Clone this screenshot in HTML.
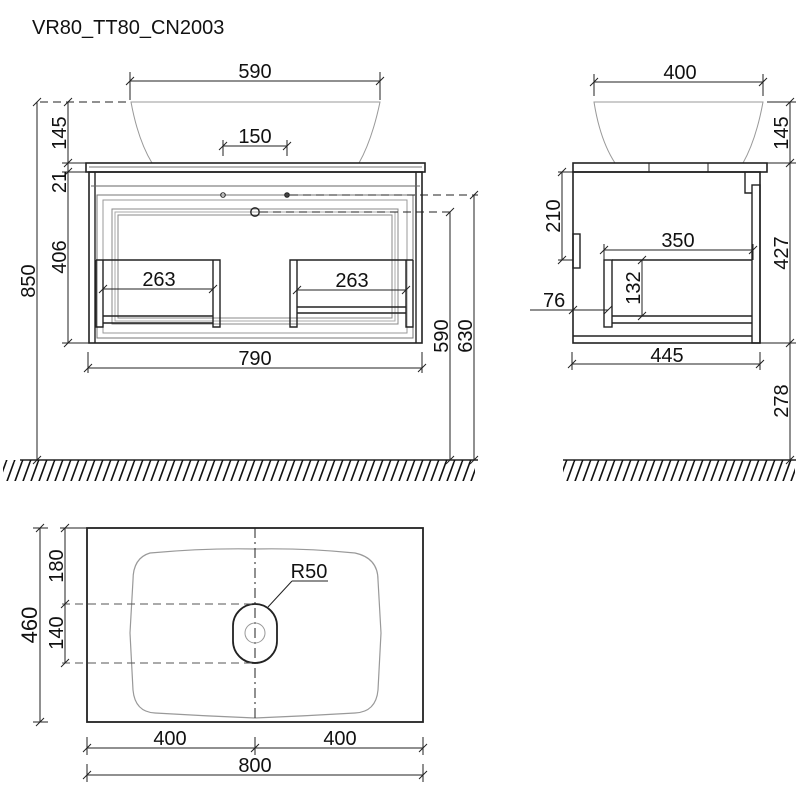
<!DOCTYPE html>
<html><head><meta charset="utf-8"><style>
html,body{margin:0;padding:0;background:#fff}
svg{display:block}
text{font-family:"Liberation Sans",sans-serif;font-size:20px;fill:#111}
</style></head><body>
<svg width="800" height="800" viewBox="0 0 800 800" xmlns="http://www.w3.org/2000/svg">
<defs>
<pattern id="h" width="8" height="22" patternUnits="userSpaceOnUse">
<line x1="-2" y1="22" x2="6" y2="0" stroke="#111" stroke-width="1.6"/>
<line x1="6" y1="22" x2="14" y2="0" stroke="#111" stroke-width="1.6"/>
</pattern>
</defs>
<text x="32" y="34" style="font-size:20px">VR80_TT80_CN2003</text>

<g stroke="#222" stroke-width="1" fill="none">
<line x1="130" y1="81" x2="380" y2="81"/>
<line x1="130" y1="72" x2="130" y2="100"/><line x1="380" y1="72" x2="380" y2="100"/>
<line x1="126" y1="85" x2="134" y2="77"/><line x1="376" y1="85" x2="384" y2="77"/>
<path d="M131 102 L380 102 Q372 140 359 163 L152 163 Q138 140 131 102 Z" stroke="#999"/>
<line x1="223" y1="146" x2="287" y2="146"/>
<line x1="223" y1="140" x2="223" y2="156"/><line x1="287" y1="140" x2="287" y2="156"/>
<line x1="219" y1="150" x2="227" y2="142"/><line x1="283" y1="150" x2="291" y2="142"/>
<rect x="86" y="163" width="339" height="9" stroke-width="1.6"/>
<line x1="89" y1="167" x2="422" y2="167" stroke="#777"/>
<rect x="89" y="172" width="333" height="171" stroke-width="1.6"/>
<line x1="95" y1="172" x2="95" y2="343" stroke-width="1.4"/>
<line x1="416" y1="172" x2="416" y2="343" stroke-width="1.4"/>
<line x1="91" y1="186" x2="420" y2="186" stroke="#666"/>
<rect x="97" y="195" width="316" height="143" stroke="#777"/>
<rect x="103" y="200" width="304" height="133" stroke="#999"/>
<rect x="112" y="209" width="286" height="115" stroke="#888"/>
<rect x="115" y="212" width="280" height="109" stroke="#aaa"/>
<rect x="118" y="215" width="274" height="103" stroke="#888"/>
<circle cx="223" cy="195" r="2.3"/>
<circle cx="287" cy="195" r="2.3" fill="#444"/>
<circle cx="255" cy="212" r="4.2" stroke-width="1.4"/>
<path d="M96 260 L220 260 L220 327 L213 327 L213 260 M96 260 L96 327 L103 327 L103 260 M103 316 L213 316 M103 323 L213 323" stroke-width="1.4"/>
<path d="M413 260 L290 260 L290 327 L297 327 L297 260 M413 260 L413 327 L406 327 L406 260 M297 307 L406 307 M297 313 L406 313" stroke-width="1.4"/>
<line x1="103" y1="289" x2="213" y2="289"/><line x1="99" y1="293" x2="107" y2="285"/><line x1="209" y1="293" x2="217" y2="285"/>
<line x1="297" y1="290" x2="406" y2="290"/><line x1="293" y1="294" x2="301" y2="286"/><line x1="402" y1="294" x2="410" y2="286"/>
<line x1="290" y1="195" x2="478" y2="195" stroke-dasharray="8,5"/>
<line x1="260" y1="212" x2="455" y2="212" stroke-dasharray="8,5"/>
<line x1="40" y1="102" x2="128" y2="102" stroke-dasharray="8,5"/>
<line x1="450" y1="212" x2="450" y2="460"/><line x1="446" y1="216" x2="454" y2="208"/><line x1="446" y1="464" x2="454" y2="456"/>
<line x1="474" y1="195" x2="474" y2="460"/><line x1="470" y1="199" x2="478" y2="191"/><line x1="470" y1="464" x2="478" y2="456"/>
<line x1="88" y1="368" x2="422" y2="368"/>
<line x1="88" y1="352" x2="88" y2="373"/><line x1="422" y1="352" x2="422" y2="373"/>
<line x1="84" y1="372" x2="92" y2="364"/><line x1="418" y1="372" x2="426" y2="364"/>
<line x1="37" y1="102" x2="37" y2="460"/><line x1="33" y1="106" x2="41" y2="98"/><line x1="33" y1="464" x2="41" y2="456"/>
<line x1="68" y1="102" x2="68" y2="343"/>
<line x1="64" y1="106" x2="72" y2="98"/><line x1="64" y1="167" x2="72" y2="159"/><line x1="64" y1="176" x2="72" y2="168"/><line x1="64" y1="347" x2="72" y2="339"/>
<line x1="62" y1="163" x2="86" y2="163"/><line x1="62" y1="172" x2="86" y2="172"/><line x1="62" y1="343" x2="89" y2="343"/>
<line x1="20" y1="460" x2="478" y2="460" stroke-width="1.6"/>

<line x1="594" y1="82" x2="763" y2="82"/>
<line x1="594" y1="74" x2="594" y2="96"/><line x1="763" y1="74" x2="763" y2="96"/>
<line x1="590" y1="86" x2="598" y2="78"/><line x1="759" y1="86" x2="767" y2="78"/>
<path d="M594 102 L763 102 Q756 140 743 163 L615 163 Q600 140 594 102 Z" stroke="#999"/>
<rect x="573" y="163" width="194" height="9" stroke-width="1.6"/>
<line x1="649" y1="163" x2="649" y2="172"/><line x1="708" y1="163" x2="708" y2="172"/>
<rect x="573" y="172" width="187" height="171" stroke-width="1.6"/>
<rect x="752" y="185" width="8" height="158" stroke-width="1.4"/>
<path d="M745 172 L745 193 L752 193" stroke-width="1.4"/>
<rect x="573" y="234" width="7" height="34" stroke-width="1.4"/>
<rect x="604" y="260" width="8" height="67" stroke-width="1.4"/>
<line x1="612" y1="260" x2="752" y2="260" stroke-width="1.4"/>
<line x1="612" y1="316" x2="752" y2="316" stroke-width="1.4"/>
<line x1="612" y1="323" x2="752" y2="323" stroke-width="1.4"/>
<line x1="573" y1="336" x2="752" y2="336" stroke-width="1.4"/>
<line x1="562" y1="172" x2="562" y2="260"/><line x1="558" y1="176" x2="566" y2="168"/><line x1="558" y1="264" x2="566" y2="256"/>
<line x1="558" y1="172" x2="573" y2="172"/><line x1="558" y1="260" x2="573" y2="260"/>
<line x1="604" y1="250" x2="753" y2="250"/><line x1="600" y1="254" x2="608" y2="246"/><line x1="749" y1="254" x2="757" y2="246"/>
<line x1="604" y1="244" x2="604" y2="260"/><line x1="753" y1="244" x2="753" y2="260"/>
<line x1="642" y1="260" x2="642" y2="316"/><line x1="638" y1="264" x2="646" y2="256"/><line x1="638" y1="320" x2="646" y2="312"/>
<line x1="530" y1="310" x2="608" y2="310"/><line x1="569" y1="314" x2="577" y2="306"/><line x1="604" y1="314" x2="612" y2="306"/>
<line x1="572" y1="364" x2="760" y2="364"/>
<line x1="572" y1="352" x2="572" y2="370"/><line x1="760" y1="352" x2="760" y2="370"/>
<line x1="568" y1="368" x2="576" y2="360"/><line x1="756" y1="368" x2="764" y2="360"/>
<line x1="790" y1="102" x2="790" y2="460"/>
<line x1="786" y1="106" x2="794" y2="98"/><line x1="786" y1="167" x2="794" y2="159"/><line x1="786" y1="347" x2="794" y2="339"/><line x1="786" y1="464" x2="794" y2="456"/>
<line x1="767" y1="102" x2="796" y2="102"/><line x1="767" y1="163" x2="796" y2="163"/><line x1="760" y1="343" x2="796" y2="343"/>
<line x1="563" y1="460" x2="796" y2="460" stroke-width="1.6"/>

<rect x="87" y="528" width="336" height="194" stroke-width="1.8"/>
<path d="M150 553 Q205 548 255 549 Q305 548 355 553 Q378 558 378 580 Q380 615 381 633 Q380 650 378 690 Q376 712 355 713 Q305 716 255 718 Q205 716 155 713 Q135 712 133 690 Q131 650 130 633 Q131 615 133 580 Q133 558 150 553 Z" stroke="#999" stroke-width="1.2"/>
<line x1="255" y1="528" x2="255" y2="722" stroke-dasharray="10,4,2,4"/>
<rect x="233" y="604" width="44" height="59" rx="22" ry="22" stroke-width="1.8"/>
<circle cx="255" cy="633" r="10" stroke="#999"/>
<line x1="62" y1="604" x2="255" y2="604" stroke-dasharray="8,5" stroke="#555"/>
<line x1="62" y1="663" x2="255" y2="663" stroke-dasharray="8,5" stroke="#555"/>
<line x1="292" y1="581" x2="328" y2="581"/>
<line x1="292" y1="581" x2="268" y2="607"/>
<line x1="40" y1="528" x2="40" y2="722"/><line x1="36" y1="532" x2="44" y2="524"/><line x1="36" y1="726" x2="44" y2="718"/>
<line x1="33" y1="528" x2="48" y2="528"/><line x1="33" y1="722" x2="48" y2="722"/>
<line x1="65" y1="528" x2="65" y2="663"/><line x1="61" y1="532" x2="69" y2="524"/><line x1="61" y1="608" x2="69" y2="600"/><line x1="61" y1="667" x2="69" y2="659"/>
<line x1="60" y1="528" x2="87" y2="528"/>
<line x1="87" y1="748" x2="423" y2="748"/><line x1="83" y1="752" x2="91" y2="744"/><line x1="251" y1="752" x2="259" y2="744"/><line x1="419" y1="752" x2="427" y2="744"/>
<line x1="87" y1="737" x2="87" y2="755"/><line x1="255" y1="737" x2="255" y2="755"/><line x1="423" y1="737" x2="423" y2="755"/>
<line x1="87" y1="775" x2="423" y2="775"/><line x1="83" y1="779" x2="91" y2="771"/><line x1="419" y1="779" x2="427" y2="771"/>
<line x1="87" y1="764" x2="87" y2="782"/><line x1="423" y1="764" x2="423" y2="782"/>
</g>
<rect x="3" y="460" width="472" height="21" fill="url(#h)"/>
<rect x="563" y="460" width="232" height="21" fill="url(#h)"/>

<g text-anchor="middle">
<text x="255" y="78">590</text>
<text x="255" y="143">150</text>
<text x="159" y="286">263</text>
<text x="352" y="287">263</text>
<text x="255" y="365">790</text>
<text x="680" y="79">400</text>
<text x="678" y="247">350</text>
<text x="667" y="362">445</text>
<text x="170" y="745">400</text>
<text x="340" y="745">400</text>
<text x="255" y="772">800</text>
<text x="309" y="578">R50</text>
<text transform="translate(35,281) rotate(-90)">850</text>
<text transform="translate(66,133) rotate(-90)">145</text>
<text transform="translate(66,182) rotate(-90)">21</text>
<text transform="translate(66,257) rotate(-90)">406</text>
<text transform="translate(448,336) rotate(-90)">590</text>
<text transform="translate(472,336) rotate(-90)">630</text>
<text transform="translate(560,216) rotate(-90)">210</text>
<text transform="translate(640,288) rotate(-90)">132</text>
<text transform="translate(788,133) rotate(-90)">145</text>
<text transform="translate(788,253) rotate(-90)">427</text>
<text transform="translate(788,401) rotate(-90)">278</text>
<text transform="translate(37,625) rotate(-90)" style="font-size:22px">460</text>
<text transform="translate(63,566) rotate(-90)">180</text>
<text transform="translate(63,633) rotate(-90)">140</text>
</g>
<text x="543" y="307">76</text>
</svg>
</body></html>
